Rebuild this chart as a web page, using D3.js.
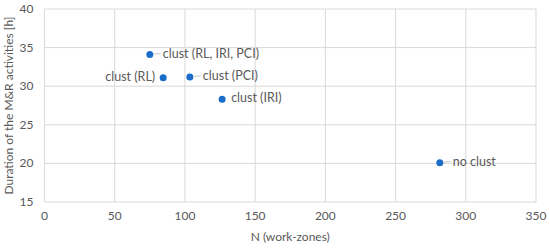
<!DOCTYPE html>
<html>
<head>
<script src="https://d3js.org/d3.v7.min.js"></script>
<style>
  body { margin: 0; background: #fff; }
  text { font-family: Lato, "Open Sans", sans-serif; fill: #595959; }
</style>
</head>
<body>
<svg id="chart" width="550" height="248"></svg>
<script>
const labels = ['clust (RL, IRI, PCI)', 'clust (RL)', 'clust (PCI)', 'clust (IRI)', 'no clust'];
const nZones = [75, 84.5, 103.5, 126.5, 281.5];
const duration = [34.1, 31.1, 31.2, 28.3, 20.1];
const labelSide = ['right', 'left', 'right', 'right', 'right'];
const leader = [true, false, true, false, true];
const xTicks = [0, 50, 100, 150, 200, 250, 300, 350];
const yTicks = [15, 20, 25, 30, 35, 40];

const svg = d3.select('#chart');
const margin = { top: 9, right: 14, bottom: 46, left: 44.5 };
const width = 550, height = 248;

const x = d3.scaleLinear().domain([0, 350]).range([margin.left, width - margin.right]);
const y = d3.scaleLinear().domain([15, 40]).range([height - margin.bottom, margin.top]);

// grid
svg.append('g').selectAll('line').data(xTicks).join('line')
  .attr('x1', d => x(d)).attr('x2', d => x(d))
  .attr('y1', y(15)).attr('y2', y(40))
  .attr('stroke', '#d9d9d9').attr('stroke-width', 1);
svg.append('g').selectAll('line').data(yTicks).join('line')
  .attr('x1', x(0)).attr('x2', x(350))
  .attr('y1', d => y(d)).attr('y2', d => y(d))
  .attr('stroke', '#d9d9d9').attr('stroke-width', 1);

// tick labels
svg.append('g').selectAll('text').data(xTicks).join('text')
  .attr('x', d => x(d)).attr('y', y(15) + 18)
  .attr('text-anchor', 'middle').attr('font-size', 12)
  .text(d => d);
svg.append('g').selectAll('text').data(yTicks).join('text')
  .attr('x', x(0) - 11).attr('y', d => y(d) + 4)
  .attr('text-anchor', 'end').attr('font-size', 12)
  .text(d => d);

// axis titles
svg.append('text')
  .attr('x', (x(0) + x(350)) / 2).attr('y', 241)
  .attr('text-anchor', 'middle').attr('font-size', 12)
  .text('N (work-zones)');
svg.append('text')
  .attr('transform', `translate(13,${(y(15) + y(40)) / 2}) rotate(-90)`)
  .attr('text-anchor', 'middle').attr('font-size', 12)
  .text('Duration of the M&R activities [h]');

const pts = labels.map((l, i) => ({ label: l, n: nZones[i], d: duration[i], side: labelSide[i], lead: leader[i] }));

// leader lines
svg.append('g').selectAll('line').data(pts.filter(p => p.lead)).join('line')
  .attr('x1', p => x(p.n) + 4).attr('x2', p => x(p.n) + 11)
  .attr('y1', p => y(p.d) - 0.5).attr('y2', p => y(p.d) - 1)
  .attr('stroke', '#c8c8c8').attr('stroke-width', 1);

// points
svg.append('g').selectAll('circle').data(pts).join('circle')
  .attr('cx', p => x(p.n)).attr('cy', p => y(p.d))
  .attr('r', 3.5).attr('fill', '#1a6dc9');

// data labels
svg.append('g').selectAll('text').data(pts).join('text')
  .attr('x', p => p.side === 'left' ? x(p.n) - 8 : x(p.n) + (p.lead ? 13 : 9))
  .attr('y', p => y(p.d) + 3)
  .attr('text-anchor', p => p.side === 'left' ? 'end' : 'start')
  .attr('font-size', 12.5)
  .text(p => p.label);
</script>
</body>
</html>
